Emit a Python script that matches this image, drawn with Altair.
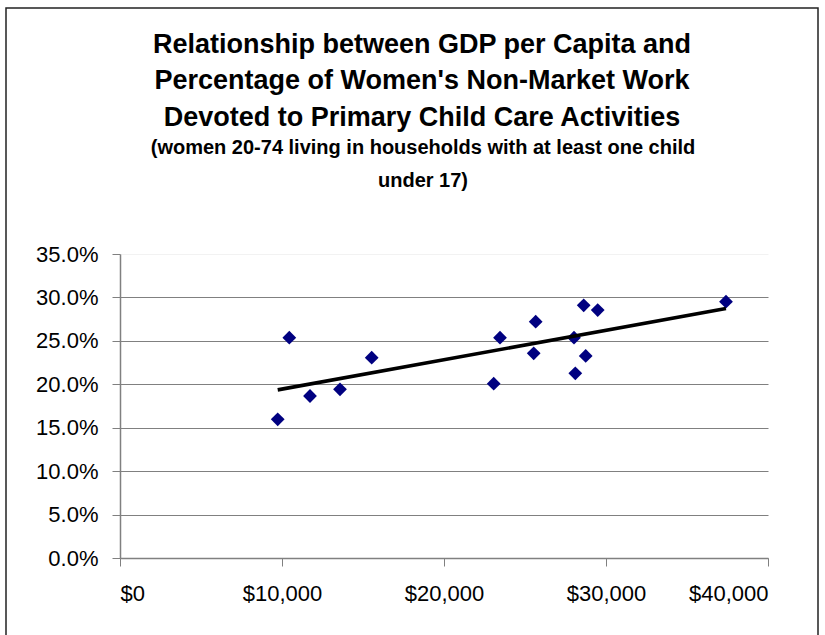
import altair as alt
import pandas as pd

# GDP per capita (US$) and share of women's non-market work spent on primary child care
gdp_per_capita = [9735, 10451, 11728, 13580, 15537, 23068, 23457, 25537,
                  25660, 28025, 28105, 28623, 28747, 29488, 37407]
child_care_share = [0.1597, 0.2536, 0.1865, 0.1942, 0.2306, 0.2007, 0.2536, 0.2357,
                    0.2721, 0.2536, 0.2126, 0.2909, 0.2326, 0.2855, 0.2951]

title_lines = ["Relationship between GDP per Capita and",
               "Percentage of Women's Non-Market Work",
               "Devoted to Primary Child Care Activities"]
subtitle_lines = ["(women 20-74 living in households with at least one child",
                  "under 17)"]

df = pd.DataFrame({"gdp": gdp_per_capita, "share": child_care_share})

FONT = "Liberation Sans"
GRID = "#808080"
one_row = alt.Data(values=[{}])

x_enc = alt.X("gdp:Q",
              scale=alt.Scale(domain=[0, 40000], nice=False),
              axis=alt.Axis(title=None, format="$,d", values=[0, 10000, 20000, 30000, 40000],
                            grid=False, domainColor=GRID, tickColor=GRID,
                            tickSize=8, labelPadding=17))
y_enc = alt.Y("share:Q",
              scale=alt.Scale(domain=[0, 0.35], nice=False),
              axis=alt.Axis(title=None, format=".1%",
                            values=[0, 0.05, 0.10, 0.15, 0.20, 0.25, 0.30, 0.35],
                            gridColor={"condition": {"test": "datum.value >= 0.349",
                                                     "value": "#f2f2f2"},
                                       "value": GRID},
                            domainColor=GRID, tickColor=GRID,
                            tickSize=8, labelPadding=14))

points = alt.Chart(df).mark_point(
    shape="diamond", filled=True, color="#000080", size=190, opacity=1
).encode(x=x_enc, y=y_enc)

trend = alt.Chart(df).transform_regression("gdp", "share").mark_line(
    color="black", strokeWidth=3.6
).encode(x="gdp:Q", y="share:Q")

# outer chart-area frame
frame = alt.Chart(one_row).mark_rect(
    filled=False, stroke="#222222", strokeWidth=1.5, clip=False
).encode(x=alt.value(-114), x2=alt.value(698), y=alt.value(-246), y2=alt.value(420))

# chart heading and sub-heading, centred over the chart area
heading = alt.Chart(one_row).mark_text(
    text=title_lines, font=FONT, fontSize=27, fontWeight="bold", color="black",
    align="center", baseline="alphabetic", lineHeight=36.5, clip=False
).encode(x=alt.value(302), y=alt.value(-201.5))

subheading = alt.Chart(one_row).mark_text(
    text=subtitle_lines, font=FONT, fontSize=20, fontWeight="bold", color="black",
    align="center", baseline="alphabetic", lineHeight=33, clip=False
).encode(x=alt.value(303), y=alt.value(-100.5))

chart = alt.layer(frame, heading, subheading, points, trend).properties(
    width=648,
    height=304,
    padding={"left": 120, "top": 254, "right": 57, "bottom": 77},
    autosize=alt.AutoSizeParams(type="none"),
).configure_view(stroke=None).configure_axis(
    labelFont=FONT, labelFontSize=22, labelColor="black",
    gridWidth=1, domainWidth=1.5
)

chart.save("out.html", embed_options={"renderer": "svg", "actions": False})
